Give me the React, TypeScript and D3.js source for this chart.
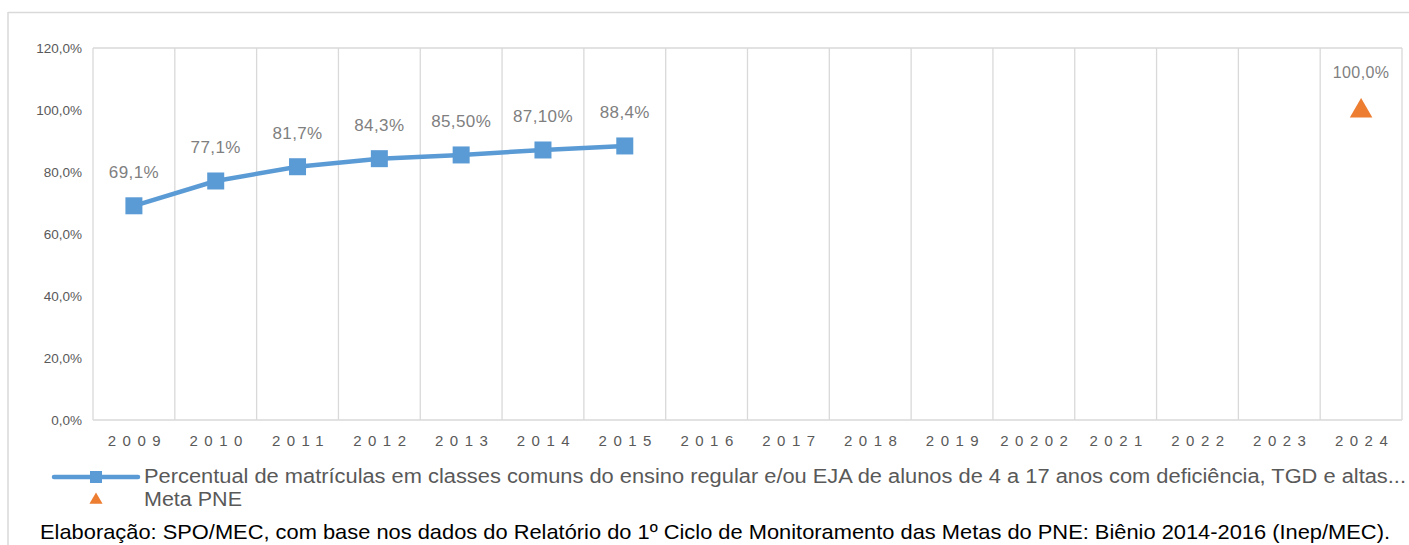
import React from "react";
import * as d3 from "d3";

const years = ["2009","2010","2011","2012","2013","2014","2015","2016","2017","2018","2019","20202","2021","2022","2023","2024"];
const seriesYears = ["2009","2010","2011","2012","2013","2014","2015"];
const seriesValues = [69.1, 77.1, 81.7, 84.3, 85.5, 87.1, 88.4];
const seriesLabels = ["69,1%","77,1%","81,7%","84,3%","85,50%","87,10%","88,4%"];
const metaYear = "2024";
const metaValue = 100;
const metaLabel = "100,0%";
const yTicks = [0, 20, 40, 60, 80, 100, 120];
const yTickLabels = ["0,0%","20,0%","40,0%","60,0%","80,0%","100,0%","120,0%"];
const legendSeries = "Percentual de matrículas em classes comuns do ensino regular e/ou EJA de alunos de 4 a 17 anos com deficiência, TGD e altas...";
const legendMeta = "Meta PNE";
const footer = "Elaboração: SPO/MEC, com base nos dados do Relatório do 1º Ciclo de Monitoramento das Metas do PNE: Biênio 2014-2016 (Inep/MEC).";

const W = 1409, H = 545;
const BLUE = "#5B9BD5", ORANGE = "#ED7D31", GRID = "#D9D9D9";
const FONT = "'Liberation Sans', Arial, sans-serif";

export default function App() {
  const x = d3.scaleBand().domain(years).range([93, 1402]).padding(0);
  const y = d3.scaleLinear().domain([0, 120]).range([420, 48]);
  const cx = (k: string) => (x(k) as number) + x.bandwidth() / 2;
  const pts = seriesYears.map((k, i) => [cx(k), y(seriesValues[i])] as [number, number]);
  const line = d3.line()(pts) || "";
  const tri = d3.symbol().type(d3.symbolTriangle).size(220)() || "";
  const triSmall = d3.symbol().type(d3.symbolTriangle).size(75)() || "";
  const boundaries = years.map((k) => x(k) as number).concat([x.range()[1]]);
  const sq = 17;

  return (
    <svg width={W} height={H} style={{ position: "absolute", left: 0, top: 0, background: "#fff" }} fontFamily={FONT}>
      <rect x={0} y={0} width={W} height={H} fill="#fff" />
      <line x1={8} x2={W} y1={12.5} y2={12.5} stroke={GRID} strokeWidth={1.5} />
      <line x1={8} x2={8} y1={12} y2={H} stroke={GRID} strokeWidth={1.5} />
      {boundaries.map((b, i) => (
        <line key={"v" + i} x1={b} x2={b} y1={y(120)} y2={y(0)} stroke={GRID} strokeWidth={1.3} />
      ))}
      <line x1={93} x2={1402} y1={y(120)} y2={y(120)} stroke={GRID} strokeWidth={1.3} />
      <line x1={93} x2={1402} y1={y(0)} y2={y(0)} stroke={GRID} strokeWidth={1.3} />
      {yTicks.map((t, i) => (
        <text key={"y" + i} x={82} y={y(t) + 5} textAnchor="end" fontSize={13.5} fill="#595959">{yTickLabels[i]}</text>
      ))}
      {years.map((k) => (
        <text key={"x" + k} x={cx(k) + 3.5} y={446} textAnchor="middle" fontSize={15} letterSpacing={6.5} fill="#595959">{k}</text>
      ))}
      <path d={line} fill="none" stroke={BLUE} strokeWidth={4.5} strokeLinejoin="round" />
      {pts.map((p, i) => (
        <rect key={"m" + i} x={p[0] - sq / 2} y={p[1] - sq / 2} width={sq} height={sq} fill={BLUE} />
      ))}
      {pts.map((p, i) => (
        <text key={"l" + i} x={p[0]} y={p[1] - 28} textAnchor="middle" fontSize={17} letterSpacing={0.4} fill="#7F7F7F">{seriesLabels[i]}</text>
      ))}
      <path d={tri} transform={`translate(${cx(metaYear)},${y(metaValue) + 1})`} fill={ORANGE} />
      <text x={cx(metaYear)} y={y(metaValue) - 32} textAnchor="middle" fontSize={16} letterSpacing={0.4} fill="#7F7F7F">{metaLabel}</text>
      <line x1={54} x2={138} y1={477} y2={477} stroke={BLUE} strokeWidth={4.5} strokeLinecap="round" />
      <rect x={96 - 6} y={477 - 6} width={12} height={12} fill={BLUE} />
      <text x={144} y={483} fontSize={20} fill="#595959" textLength={1262} lengthAdjust="spacingAndGlyphs">{legendSeries}</text>
      <path d={triSmall} transform={`translate(96,500)`} fill={ORANGE} />
      <text x={144} y={506} fontSize={20} fill="#595959" textLength={98} lengthAdjust="spacingAndGlyphs">{legendMeta}</text>
      <text x={40} y={539} fontSize={21} fill="#000" textLength={1350} lengthAdjust="spacingAndGlyphs">{footer}</text>
    </svg>
  );
}
